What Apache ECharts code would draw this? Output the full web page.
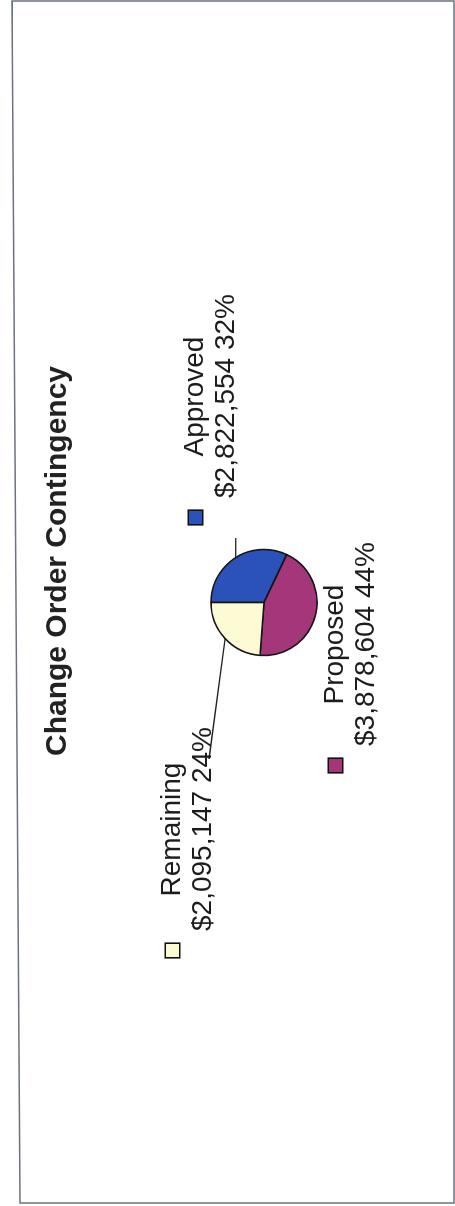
<!DOCTYPE html>
<html>
<head>
<meta charset="utf-8">
<script src="https://cdn.jsdelivr.net/npm/echarts@6/dist/echarts.min.js"></script>
<style>
html,body{margin:0;padding:0;width:455px;height:1206px;overflow:hidden;background:#fff;}
#wrap{position:absolute;left:0;top:0;width:1206px;height:455px;transform-origin:0 0;transform:translate(0,1206px) rotate(-90deg);}
#chart{width:1206px;height:455px;}
</style>
</head>
<body>
<div id="wrap"><div id="chart"></div></div>
<script>
// ---- data ----
const chartTitle = 'Change Order Contingency';
const categories = ['Approved', 'Proposed', 'Remaining'];
const amounts = [2822554, 3878604, 2095147];
const sliceColors = ['#2b52b8', '#a3377a', '#fdfbd3'];

// ---- layout (chart drawn landscape, page rotated 90deg CCW) ----
const FONT = '"Liberation Sans", Arial, Helvetica, sans-serif';
const labelBoxes = [[682, 180], [434, 320], [249, 157]];

const rich = {
  a: { align: 'center', fontSize: 28, lineHeight: 31, fontFamily: FONT, color: '#1c1c1c' },
  b: { fontSize: 28, lineHeight: 31, fontFamily: FONT, color: '#1c1c1c' },
  g: { width: 12, height: 14 },
  s: { width: 26, height: 14 }
};
categories.forEach(function (c, i) {
  rich['m' + i] = { width: 13, height: 13, backgroundColor: sliceColors[i], borderColor: '#111', borderWidth: 1.6 };
});

const chart = echarts.init(document.getElementById('chart'), null, { renderer: 'canvas' });
chart.setOption({
  animation: false,
  backgroundColor: '#ffffff',
  title: {
    text: chartTitle,
    left: 645,
    top: 43,
    padding: 0,
    textAlign: 'center',
    textVerticalAlign: 'top',
    textStyle: { fontSize: 30, fontWeight: 'bold', fontFamily: FONT, color: '#222', lineHeight: 30 }
  },
  graphic: [{
    type: 'polygon',
    silent: true,
    shape: { points: [[1205, 12], [1205, 454], [3, 454], [3, 20]] },
    style: { fill: 'none', stroke: '#6b7282', lineWidth: 1.5 }
  }],
  series: [{
    type: 'pie',
    center: [603.5, 264],
    radius: 53,
    startAngle: 90,
    clockwise: true,
    avoidLabelOverlap: false,
    percentPrecision: 0,
    emphasis: { disabled: true },
    itemStyle: { borderColor: '#151515', borderWidth: 1.6 },
    label: {
      show: true,
      position: 'outside',
      rich: rich,
      formatter: function (p) {
        const amt = '$' + p.value.toLocaleString('en-US');
        return '{m' + p.dataIndex + '|}{g|}{a|' + p.name + '}\n{s|}{b|' + amt + ' ' + p.percent + '%}';
      }
    },
    labelLine: { show: true, length: 10, length2: 10, lineStyle: { color: '#222', width: 1.3 } },
    labelLayout: function (p) {
      const box = labelBoxes[p.dataIndex];
      const w = p.labelRect.width, h = p.labelRect.height;
      const p0 = p.labelLinePoints ? p.labelLinePoints[0] : [0, 0];
      let pts;
      if (p.dataIndex === 0) {
        pts = [p0, [box[0] - 14, p0[1]]];
      } else if (p.dataIndex === 2) {
        pts = [p0, [box[0] + w - 6, box[1] + h - 7]];
      } else {
        pts = [p0, p0];
      }
      return { x: box[0], y: box[1], align: 'left', verticalAlign: 'top', labelLinePoints: pts };
    },
    data: categories.map(function (c, i) {
      return {
        name: c,
        value: amounts[i],
        itemStyle: { color: sliceColors[i] },
        labelLine: { show: i !== 1 }
      };
    })
  }]
});
</script>
</body>
</html>
